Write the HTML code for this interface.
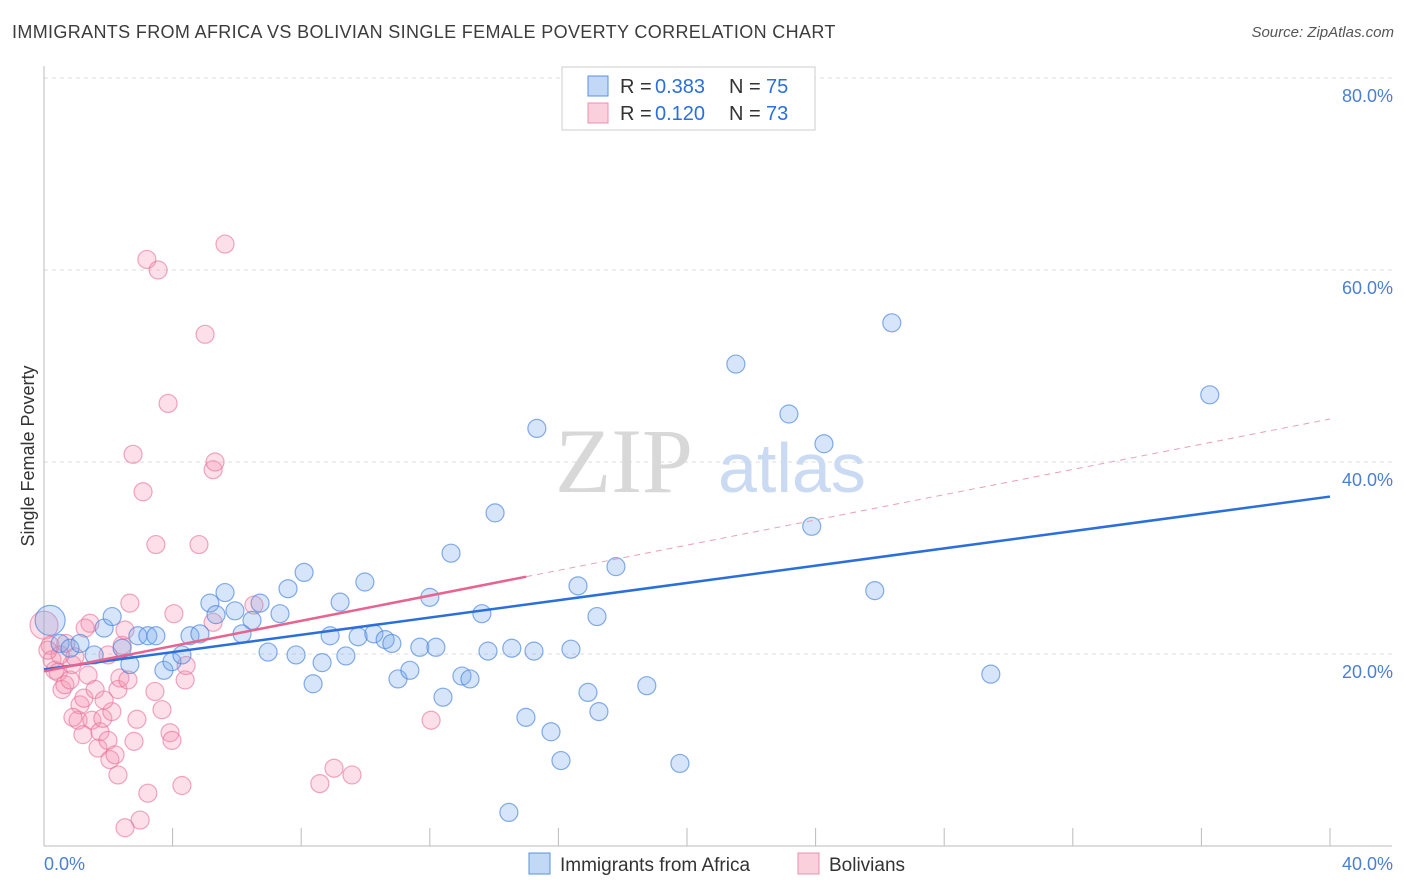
<!DOCTYPE html>
<html><head><meta charset="utf-8"><style>
body{margin:0;background:#fff;font-family:"Liberation Sans",sans-serif;}
#wrap{position:relative;width:1406px;height:892px;overflow:hidden;}
.t{position:absolute;white-space:nowrap;}
</style></head><body>
<div id="wrap">
<div class="t" style="left:12px;top:22px;font-size:18px;color:#3c3c3c;letter-spacing:0.35px;">IMMIGRANTS FROM AFRICA VS BOLIVIAN SINGLE FEMALE POVERTY CORRELATION CHART</div>
<div class="t" style="right:12px;top:24px;font-size:15px;color:#555;font-style:italic;">Source: ZipAtlas.com</div>
<svg id="plot" width="1406" height="892" style="position:absolute;left:0;top:0"></svg>
</div>
<script>
const blueX=[0.19,0.5,0.81,1.12,1.56,1.87,2.12,2.43,2.67,2.92,3.23,3.48,3.73,3.98,4.29,4.54,4.85,5.16,5.35,5.63,5.94,6.16,6.47,6.72,6.97,7.34,7.59,7.84,8.09,8.37,8.65,8.9,9.21,9.39,9.77,9.98,10.26,10.61,10.82,11.01,11.38,11.69,12.0,12.19,12.41,12.66,13.0,13.25,13.62,13.81,14.03,14.46,14.55,14.99,15.24,15.33,15.77,16.08,16.39,16.61,16.92,17.2,17.26,17.79,18.75,19.78,21.52,23.17,23.88,24.26,25.84,26.37,29.45,36.26];
const blueY=[23.5,21.1,20.6,21.1,19.9,22.7,23.9,20.6,18.9,21.9,21.9,21.9,18.3,19.2,19.9,21.9,22.1,25.3,24.1,26.4,24.5,22.1,23.5,25.3,20.2,24.2,26.8,19.9,28.5,16.9,19.1,21.9,25.4,19.8,21.8,27.5,22.1,21.5,21.1,17.4,18.3,20.7,25.9,20.7,15.5,30.5,17.7,17.4,24.2,20.3,34.7,3.5,20.6,13.4,20.3,43.5,11.9,8.9,20.5,27.1,16.0,23.9,14.0,29.1,16.7,8.6,50.2,45.0,33.3,41.9,26.6,54.5,17.9,47.0];
const pinkX=[0,0.19,0.25,0.34,0.44,0.56,0.65,0.81,0.87,0.96,1.06,1.12,1.24,1.37,1.43,1.49,1.59,1.68,1.74,1.83,1.99,2.05,2.11,2.21,2.3,2.36,2.43,2.52,2.61,2.8,2.89,3.2,3.23,2.99,2.52,3.45,3.55,3.67,3.86,3.92,3.98,4.04,4.29,4.39,4.42,3.08,2.77,3.48,4.82,5.01,5.26,5.32,5.26,5.63,6.53,8.58,9.02,9.58,12.04,0.5,0.68,1.99,2.3,0.9,1.21,1.87,0.12,2.67,1.28];
const pinkY=[23.0,20.9,19.4,18.3,18.1,16.3,16.8,17.3,18.9,19.7,13.1,14.7,15.4,17.8,23.2,13.1,16.3,10.2,11.9,13.3,11.0,9.0,14.0,9.5,16.3,17.5,20.9,22.5,17.3,10.9,13.2,61.1,5.5,2.7,1.9,16.1,60.0,14.2,46.1,11.8,11.0,24.2,6.3,17.3,18.8,36.9,40.8,31.4,31.4,53.3,39.2,40.0,23.3,62.7,25.1,6.5,8.1,7.4,13.1,19.9,21.1,19.9,7.4,13.4,11.6,15.2,20.4,25.3,22.7];
const yTicks=[20,40,60,80];
const yTickLabels=["20.0%","40.0%","60.0%","80.0%"];
const xTicks=[0,4,8,12,16,20,24,28,32,36,40];
const blueTrend=[18.4,36.4];
const pinkTrend=[18.2,0.657];
const pinkSolidEnd=15;

const NS="http://www.w3.org/2000/svg";
const svg=document.getElementById('plot');
const X=v=>44+v/40*1286;
const Y=v=>846-v/20*192;
function mk(tag,attrs){const e=document.createElementNS(NS,tag);for(const k in attrs)e.setAttribute(k,attrs[k]);svg.appendChild(e);return e;}
function txt(x,y,s,size,fill,anchor){const e=mk('text',{x:x,y:y,'font-size':size,fill:fill,'text-anchor':anchor||'start','font-family':'Liberation Sans, sans-serif'});e.textContent=s;return e;}

yTicks.forEach((v,i)=>{
  const g=mk('line',{x1:44,x2:1392,y1:Y(v),y2:Y(v),stroke:'#ddd','stroke-dasharray':'4,4'});
  
  
  const t=txt(1393,Y(v)+24,yTickLabels[i],18,'#4a7fd6','end');
  
  
});
let a=mk('line',{x1:44,x2:44,y1:66,y2:846,stroke:'#bbb'});


a=mk('line',{x1:44,x2:1392,y1:846,y2:846,stroke:'#bbb'});


xTicks.forEach(v=>{
  const t=mk('line',{x1:X(v),x2:X(v),y1:828,y2:846,stroke:'#bbb'});
  
  
});
let l=txt(44,870,'0.0%',18,'#4a7fd6');


l=txt(1393,870,'40.0%',18,'#4a7fd6','end');


l=txt(34,456,'Single Female Poverty',18,'#333','middle');
l.setAttribute('transform','rotate(-90 34 456)');


l=txt(555,492,'ZIP',92,'#d8d8d8');
l.setAttribute('font-family','Liberation Serif, serif');


l=txt(718,492,'atlas',70,'#c9daf2');



pinkX.forEach((v,i)=>{
  const c=mk('circle',{cx:X(v),cy:Y(pinkY[i]),r:i===0?14:9,fill:'rgba(244,150,180,0.3)',stroke:'rgba(232,110,150,0.6)','stroke-width':1.2});
  
  
});
blueX.forEach((v,i)=>{
  const c=mk('circle',{cx:X(v),cy:Y(blueY[i]),r:i===0?15:9,fill:'rgba(120,170,235,0.3)',stroke:'rgba(70,130,220,0.65)','stroke-width':1.2});
  
  
});
l=mk('line',{x1:X(0),y1:Y(blueTrend[0]),x2:X(40),y2:Y(blueTrend[1]),stroke:'#2a6fdb','stroke-width':2.5});


l=mk('line',{x1:X(0),y1:Y(pinkTrend[0]),x2:X(pinkSolidEnd),y2:Y(pinkTrend[0]+pinkTrend[1]*pinkSolidEnd),stroke:'#e8638e','stroke-width':2.5});


l=mk('line',{x1:X(pinkSolidEnd),y1:Y(pinkTrend[0]+pinkTrend[1]*pinkSolidEnd),x2:X(40),y2:Y(pinkTrend[0]+pinkTrend[1]*40),stroke:'#e8a0b8','stroke-width':1,'stroke-dasharray':'6,5'});



l=mk('rect',{x:562,y:67,width:253,height:63,fill:'#fff',stroke:'#ccc'});


[[76,'rgba(120,170,235,0.45)','#5a8fe0','0.383','75'],[103,'rgba(244,150,180,0.45)','#e890ae','0.120','73']].forEach(r=>{
  const b=mk('rect',{x:588,y:r[0],width:20,height:20,fill:r[1],stroke:r[2]});
  
  
  let t=txt(620,r[0]+17,'R =',20,'#333');
  
  
  t=txt(655,r[0]+17,r[3],20,'#2a6fdb');
  
  
  t=txt(729,r[0]+17,'N =',20,'#333');
  
  
  t=txt(766,r[0]+17,r[4],20,'#2a6fdb');
  
  
});
[[529,'rgba(120,170,235,0.45)','#5a8fe0','Immigrants from Africa'],[798,'rgba(244,150,180,0.45)','#e890ae','Bolivians']].forEach(r=>{
  const b=mk('rect',{x:r[0],y:853,width:21,height:21,fill:r[1],stroke:r[2]});
  
  
  const t=txt(r[0]+31,871,r[3],19,'#333');
  
  
});
</script>
</body></html>
